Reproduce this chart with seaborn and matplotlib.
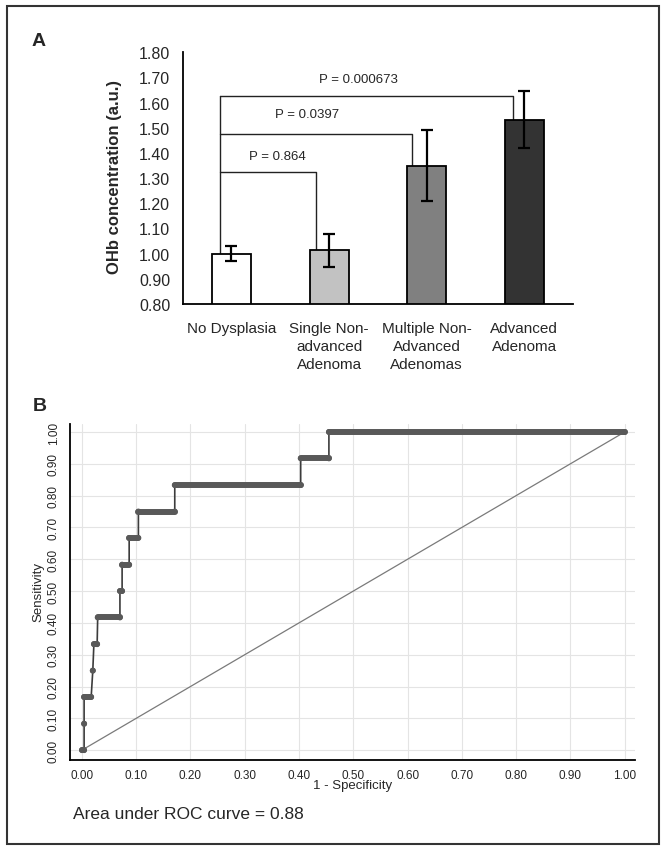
import numpy as np
import pandas as pd
import matplotlib
matplotlib.use("Agg")
import matplotlib.pyplot as plt
import seaborn as sns
from matplotlib.patches import Rectangle

# ---------------- data: panel A ----------------
groups = ["No Dysplasia", "Single Non-\nadvanced\nAdenoma",
          "Multiple Non-\nAdvanced\nAdenomas", "Advanced\nAdenoma"]
ohb_mean = [1.000, 1.013, 1.350, 1.533]
ohb_err = [0.030, 0.066, 0.141, 0.114]
bar_colors = ["#ffffff", "#c2c2c2", "#808080", "#333333"]
yticks_a = [0.80, 0.90, 1.00, 1.10, 1.20, 1.30, 1.40, 1.50, 1.60, 1.70, 1.80]
p_labels = ["P = 0.864", "P = 0.0397", "P = 0.000673"]
bracket_y = [1.323, 1.474, 1.625]
bracket_right = [0.87, 1.85, 2.88]
bracket_left = -0.12
p_text_x = [0.47, 0.77, 1.30]
p_text_y = [1.389, 1.555, 1.694]

# ---------------- data: panel B (ROC) ----------------
roc_tpr = [0.000, 0.083, 0.167, 0.250, 0.333, 0.417, 0.500,
           0.583, 0.667, 0.750, 0.833, 0.917, 1.000]
roc_fpr_start = [0.000, 0.004, 0.004, 0.020, 0.022, 0.029, 0.070,
                 0.074, 0.087, 0.104, 0.171, 0.403, 0.455]
roc_fpr_end = [0.004, 0.004, 0.017, 0.020, 0.028, 0.070, 0.074,
               0.087, 0.104, 0.171, 0.403, 0.455, 1.000]
ticks_b = [0.0, 0.1, 0.2, 0.3, 0.4, 0.5, 0.6, 0.7, 0.8, 0.9, 1.0]
auc_text = "Area under ROC curve = 0.88"

sns.set_style("white")
plt.rcParams["font.family"] = ["Liberation Sans", "DejaVu Sans"]

W, H = 665, 853
fig = plt.figure(figsize=(W / 100, H / 100), dpi=100)

def fx(px):
    return px / W

def fy(py):
    return 1 - py / H

# ================= Panel A =================
axA = fig.add_axes([fx(182.7), fy(305), fx(573 - 182.7), (305 - 53.3) / H])
dfa = pd.DataFrame({"group": groups, "ohb": ohb_mean})
sns.barplot(data=dfa, x="group", y="ohb", hue="group", palette=bar_colors,
            legend=False, width=0.4, edgecolor="black", linewidth=1.3,
            ax=axA, zorder=2)
axA.errorbar(x=np.arange(len(groups)), y=ohb_mean, yerr=ohb_err, fmt="none",
             ecolor="black", elinewidth=1.6, capsize=4.5, capthick=1.6, zorder=3)

# significance brackets
for by, br, lab, tx, ty, top in zip(bracket_y, bracket_right, p_labels,
                                     p_text_x, p_text_y, ohb_mean[1:]):
    axA.plot([bracket_left, br, br], [by, by, top], color="#222222", lw=1.0,
             zorder=1)
    axA.text(tx, ty, lab, ha="center", va="center", fontsize=9.5)
axA.plot([bracket_left, bracket_left], [ohb_mean[0], max(bracket_y)],
         color="#222222", lw=1.0, zorder=1)

axA.set_ylim(0.80, 1.80)
axA.set_xlim(-0.5, 3.5)
axA.set_yticks(yticks_a)
axA.set_yticklabels([f"{v:.2f}" for v in yticks_a], fontsize=11.5)
axA.set_xticks([-0.5, 0.5, 1.5, 2.5, 3.5])
axA.set_xticklabels([])
axA.set_xticks(np.arange(len(groups)), minor=True)
axA.set_xticklabels(groups, minor=True, fontsize=11, linespacing=1.4)
axA.tick_params(axis="x", which="major", direction="out", length=7, width=1.2,
                color="black")
axA.tick_params(axis="x", which="minor", length=0, pad=12)
axA.tick_params(axis="y", direction="out", length=7, width=1.2, color="black",
                pad=2)
for s in ["top", "right"]:
    axA.spines[s].set_visible(False)
for s in ["left", "bottom"]:
    axA.spines[s].set_color("black")
    axA.spines[s].set_linewidth(1.3)
axA.set_xlabel("")
axA.set_ylabel("OHb concentration (a.u.)", fontsize=12, fontweight="bold")
axA.yaxis.set_label_coords(-0.155, 0.51)

# ================= Panel B =================
axB = fig.add_axes([fx(70), fy(761), fx(634.5 - 70), (761 - 425) / H])

# thin connecting path
path_x, path_y = [], []
for s, e, t in zip(roc_fpr_start, roc_fpr_end, roc_tpr):
    path_x += [s, e]
    path_y += [t, t]
dfp = pd.DataFrame({"fpr": path_x, "tpr": path_y, "order": range(len(path_x))})
sns.lineplot(data=dfp, x="fpr", y="tpr", sort=False, estimator=None,
             color="#3c3c3c", lw=1.2, ax=axB, zorder=3)

# thick horizontal runs of dense points
rows = []
for i, (s, e, t) in enumerate(zip(roc_fpr_start, roc_fpr_end, roc_tpr)):
    rows.append({"level": i, "fpr": s, "tpr": t})
    rows.append({"level": i, "fpr": e, "tpr": t})
dft = pd.DataFrame(rows)
sns.lineplot(data=dft, x="fpr", y="tpr", units="level", estimator=None,
             sort=False, color="#595959", lw=4.3, solid_capstyle="round",
             ax=axB, zorder=4)
sns.scatterplot(data=dft, x="fpr", y="tpr", color="#595959", s=18,
                edgecolor="none", ax=axB, zorder=5)

# reference diagonal
dfd = pd.DataFrame({"x": [0.0, 1.0], "y": [0.0, 1.0]})
sns.lineplot(data=dfd, x="x", y="y", color="#7a7a7a", lw=0.9, ax=axB, zorder=2)

axB.set_xlim(-0.022, 1.018)
axB.set_ylim(-0.031, 1.025)
axB.set_xticks(ticks_b)
axB.set_yticks(ticks_b)
axB.set_xticklabels([f"{v:.2f}" for v in ticks_b], fontsize=8.5)
axB.set_yticklabels([f"{v:.2f}" for v in ticks_b], fontsize=8.5, rotation=90,
                    va="center")
axB.grid(True, color="#e4e4e4", lw=0.8)
axB.set_axisbelow(True)
axB.tick_params(axis="both", direction="out", length=4, width=1.1,
                color="black")
axB.tick_params(axis="x", pad=2.5)
axB.tick_params(axis="y", pad=3.5)
for s in ["top", "right"]:
    axB.spines[s].set_visible(False)
for s in ["left", "bottom"]:
    axB.spines[s].set_color("black")
    axB.spines[s].set_linewidth(1.3)
axB.set_xlabel("1 - Specificity", fontsize=9.5)
axB.xaxis.set_label_coords(0.5, -0.058)
axB.set_ylabel("Sensitivity", fontsize=9.5)
axB.yaxis.set_label_coords(-0.046, 0.504)

# ================= annotations =================
fig.text(fx(32), fy(41.5), "A", fontsize=14, fontweight="bold",
         ha="left", va="center")
fig.text(fx(33), fy(406.5), "B", fontsize=14, fontweight="bold",
         ha="left", va="center")
fig.text(fx(73), fy(815), auc_text, fontsize=12.5, ha="left", va="center")

fig.add_artist(Rectangle((fx(7.3), fy(845)), fx(659 - 7.3), (845 - 6.7) / H,
                         transform=fig.transFigure, fill=False, lw=1.5,
                         ec="#333333"))

fig.savefig("out.png", dpi=100)
